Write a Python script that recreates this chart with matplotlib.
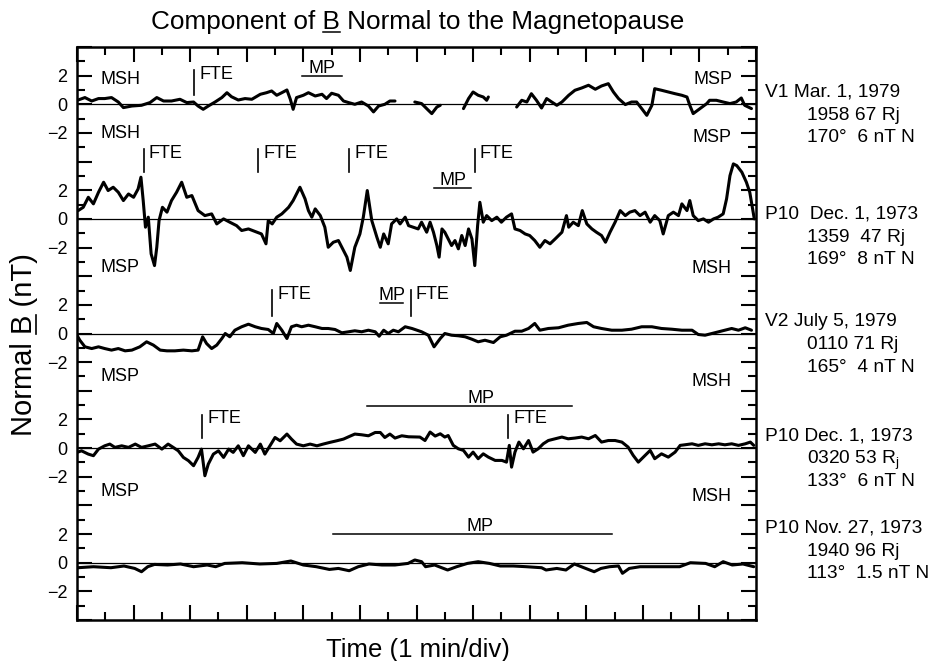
import matplotlib
matplotlib.use('Agg')
import matplotlib.pyplot as plt
from matplotlib.lines import Line2D
from matplotlib.ticker import MultipleLocator, FixedLocator, FixedFormatter

plt.rcParams['font.family'] = ['Liberation Sans', 'DejaVu Sans']

nan = float('nan')

# ---- data: time (min), normal B (nT) ----
# V1 Mar. 1, 1979 (gaps in the record -> nan)
v1_t = [0.02, 0.14, 0.26, 0.38, 0.49, 0.61, 0.73, 0.82, 0.97, 1.14, 1.29, 1.41, 1.53, 1.67,
        1.82, 1.94, 2.06, 2.14, 2.23, 2.32, 2.44, 2.56, 2.65, 2.73, 2.85, 2.97, 3.09, 3.24,
        3.35, 3.44, 3.53, 3.62, 3.71, 3.77, 3.82, 3.88, 4.00, 4.09, 4.21, 4.33, 4.41, 4.50,
        4.62, 4.71, 4.80, 4.91, 5.03, 5.15, 5.24, 5.33, 5.44, 5.53, 5.62, 5.80,
        5.97, 6.09, 6.21, 6.27, 6.36, 6.42, 6.60,
        6.83, 6.92, 7.00, 7.09, 7.18, 7.24, 7.27, 7.50,
        7.77, 7.86, 7.95, 8.03, 8.12, 8.21, 8.30, 8.39, 8.48, 8.57, 8.69, 8.80, 8.92, 9.04,
        9.16, 9.27, 9.39, 9.48, 9.57, 9.69, 9.80, 9.89, 9.98, 10.07, 10.16, 10.21, 10.33,
        10.45, 10.57, 10.69, 10.78, 10.83, 10.89, 11.01, 11.13, 11.18, 11.30, 11.42, 11.54,
        11.65, 11.74, 11.80, 11.92]
v1_b = [0.30, 0.47, 0.23, 0.40, 0.40, 0.47, 0.16, -0.23, -0.12, -0.07, 0.12, 0.47, 0.23, 0.23,
        0.35, 0.12, 0.16, -0.12, -0.35, -0.12, 0.16, 0.47, 0.81, 0.53, 0.30, 0.40, 0.35, 0.70,
        0.81, 0.93, 0.63, 0.81, 1.00, 0.35, -0.35, 0.47, 0.63, 0.81, 0.58, 0.70, 0.40, 0.77,
        0.63, 0.23, 0.12, 0.00, 0.16, -0.12, -0.53, -0.12, 0.00, 0.23, 0.23, nan,
        0.16, 0.05, -0.42, -0.65, -0.19, -0.07, nan,
        -0.30, 0.40, 0.86, 0.63, 0.51, 0.28, 0.51, nan,
        -0.19, 0.28, 0.16, 0.74, 0.28, -0.26, 0.40, 0.16, -0.07, 0.16, 0.63, 0.98, 1.14, 1.33,
        1.05, 1.28, 1.44, 0.86, 0.40, -0.02, 0.16, 0.16, -0.30, -0.77, -0.07, 1.09, 0.98,
        0.86, 0.74, 0.63, 0.51, -0.07, -0.65, -0.30, 0.05, 0.28, 0.28, 0.16, 0.05,
        0.16, 0.44, -0.07, -0.30]

# P10 Dec. 1, 1973 (1359)
p10_1359_t = [0.02, 0.11, 0.20, 0.29, 0.38, 0.47, 0.55, 0.64, 0.73, 0.82, 0.91, 1.00, 1.08, 1.13,
              1.17, 1.21, 1.26, 1.31, 1.37, 1.41, 1.45, 1.51, 1.59, 1.67, 1.76, 1.85, 1.94, 2.03,
              2.14, 2.26, 2.38, 2.47, 2.59, 2.70, 2.82, 2.91, 3.03, 3.18, 3.26, 3.34, 3.38, 3.45,
              3.53, 3.62, 3.74, 3.82, 3.88, 3.94, 4.03, 4.09, 4.15, 4.21, 4.30, 4.38, 4.44, 4.53,
              4.62, 4.68, 4.77, 4.83, 4.91, 5.00, 5.06, 5.13, 5.21, 5.30, 5.36, 5.42, 5.50, 5.56,
              5.65, 5.71, 5.80, 5.86,
              6.03, 6.09, 6.18, 6.24, 6.30, 6.36, 6.40, 6.45, 6.50, 6.56, 6.62, 6.68, 6.74, 6.80,
              6.86, 6.92, 6.98, 7.03, 7.08, 7.12, 7.18, 7.24, 7.33, 7.42, 7.50, 7.59, 7.68, 7.74,
              7.83, 7.92, 8.00, 8.09, 8.18, 8.27, 8.36, 8.45, 8.57, 8.65, 8.69, 8.77, 8.86, 8.93,
              9.01, 9.10, 9.18, 9.27, 9.34, 9.42, 9.51, 9.60, 9.69, 9.77, 9.86, 9.95, 10.04, 10.13,
              10.21, 10.30, 10.36, 10.45, 10.54, 10.63, 10.69, 10.78, 10.83, 10.89, 10.98, 11.07,
              11.16, 11.25, 11.33, 11.42, 11.48, 11.54, 11.60, 11.66, 11.75, 11.83, 11.89, 11.93,
              11.97]
p10_1359_b = [0.58, 0.81, 1.51, 1.05, 1.86, 2.56, 1.98, 2.21, 1.86, 1.28, 1.74, 1.51, 2.09, 2.91,
              1.28, -0.58, 0.12, -2.44, -3.26, -1.98, -0.12, 0.81, 0.47, 1.28, 1.86, 2.56, 1.51, 1.63,
              0.58, 0.23, 0.35, -0.35, 0.00, -0.23, -0.47, -0.81, -0.70, -0.93, -1.05, -1.74, -0.12, -0.35,
              0.12, 0.35, 0.81, 1.28, 1.74, 2.21, 1.40, 0.58, 0.12, 0.70, 0.23, -0.58, -1.98, -1.63,
              -1.51, -1.98, -2.67, -3.60, -1.98, -1.05, 0.12, 1.98, -0.12, -1.28, -1.98, -1.05, -1.74, -0.35,
              0.00, -0.35, 0.12, -0.47,
              -0.70, -0.23, -0.93, -0.23, -0.93, -1.86, -2.67, -0.70, -0.93, -1.40, -1.86, -1.51, -2.09, -1.16,
              -1.86, -0.70, -1.40, -3.26, -0.47, 1.16, -0.23, 0.23, -0.12, 0.12, -0.23, 0.12, 0.35, -0.70,
              -0.81, -1.05, -1.16, -1.51, -1.98, -1.51, -1.74, -1.40, -0.93, 0.23, -0.58, -0.23, -0.47, 0.58,
              -0.35, -0.70, -0.93, -1.16, -1.63, -0.93, -0.23, 0.58, 0.23, 0.47, 0.58, 0.23, 0.47, -0.23,
              0.23, -0.12, -1.05, 0.23, 0.47, 0.23, 1.05, 0.58, 1.28, 0.23, -0.12, 0.00,
              -0.23, 0.00, 0.12, 0.35, 1.40, 3.02, 3.84, 3.72, 3.26, 2.56, 1.86, 0.93,
              0.00]

# V2 July 5, 1979
v2_t = [0.00, 0.05, 0.14, 0.26, 0.38, 0.49, 0.61, 0.73, 0.85, 0.97, 1.11, 1.23, 1.35, 1.47, 1.59,
        1.73, 1.88, 2.03, 2.14, 2.22, 2.29, 2.38, 2.47, 2.56, 2.62, 2.70, 2.79, 2.91, 3.03, 3.15,
        3.26, 3.38, 3.47, 3.53, 3.62, 3.71, 3.79, 3.88, 3.97, 4.09, 4.21, 4.33, 4.44, 4.56, 4.68,
        4.80, 4.91, 5.03, 5.15, 5.27, 5.34, 5.42, 5.50, 5.59, 5.68, 5.80, 5.92,
        6.09, 6.21, 6.31, 6.42, 6.50, 6.62, 6.74, 6.86, 6.98, 7.09, 7.21, 7.36, 7.48, 7.59, 7.74,
        7.86, 7.98, 8.09, 8.18, 8.33, 8.51, 8.68, 8.86, 9.01, 9.13, 9.27, 9.45, 9.63, 9.80, 9.98,
        10.16, 10.33, 10.51, 10.69, 10.87, 10.98, 11.10, 11.22, 11.34, 11.45, 11.57, 11.69, 11.81,
        11.92]
v2_b = [-0.12, -0.47, -0.93, -1.05, -0.93, -1.05, -1.16, -1.05, -1.21, -1.16, -0.93, -0.58, -0.81,
        -1.16, -1.21, -1.21, -1.16, -1.21, -1.16, -0.23, -0.70, -1.05, -0.81, -0.35, 0.00, -0.23, 0.23,
        0.47, 0.65, 0.47, 0.35, 0.28, 0.00, 0.70, 0.23, -0.35, 0.47, 0.58, 0.47, 0.58, 0.47, 0.35,
        0.35, 0.28, 0.05, 0.12, 0.19, 0.12, 0.23, 0.12, -0.19, 0.23, 0.00, 0.23, 0.12, 0.47, 0.35,
        0.12, -0.12, -0.93, -0.35, 0.00, -0.12, -0.16, -0.23, -0.40, -0.58, -0.47, -0.63, -0.23, -0.12,
        0.16, 0.16, 0.35, 0.70, 0.23, 0.35, 0.40, 0.58, 0.70, 0.77, 0.47, 0.35, 0.23, 0.23, 0.30,
        0.47, 0.47, 0.35, 0.30, 0.23, 0.23, -0.07, -0.12, 0.00, 0.12, 0.23, 0.35, 0.23, 0.40, 0.23]

# P10 Dec. 1, 1973 (0320)
p10_0320_t = [0.00, 0.08, 0.20, 0.29, 0.38, 0.49, 0.58, 0.67, 0.79, 0.91, 1.03, 1.14, 1.26, 1.38,
              1.50, 1.61, 1.70, 1.79, 1.88, 1.97, 2.06, 2.14, 2.20, 2.26, 2.32, 2.41, 2.50, 2.59,
              2.68, 2.76, 2.85, 2.94, 3.03, 3.15, 3.24, 3.32, 3.41, 3.50, 3.59, 3.71, 3.79, 3.88,
              4.00, 4.12, 4.24, 4.35, 4.47, 4.59, 4.71, 4.80, 4.91, 5.03, 5.15, 5.27, 5.36, 5.44,
              5.53, 5.62, 5.74, 5.86,
              6.06, 6.15, 6.24, 6.33, 6.42, 6.50, 6.56, 6.65, 6.74, 6.83, 6.92, 7.00, 7.09, 7.18,
              7.27, 7.39, 7.51, 7.59, 7.64, 7.68, 7.74, 7.81, 7.89, 7.98, 8.06, 8.15, 8.24, 8.33,
              8.45, 8.57, 8.68, 8.80, 8.92, 9.04, 9.16, 9.27, 9.39, 9.51, 9.63, 9.74, 9.83, 9.92,
              10.04, 10.13, 10.21, 10.33, 10.45, 10.57, 10.66, 10.74, 10.87, 10.98, 11.10, 11.22,
              11.34, 11.45, 11.57, 11.69, 11.81, 11.90, 11.96]
p10_0320_b = [-0.30, -0.19, -0.42, -0.53, -0.07, 0.16, 0.28, 0.05, 0.16, 0.05, 0.28, 0.05, 0.16, 0.28,
              -0.07, 0.28, 0.05, -0.19, -0.65, -0.88, -1.23, -0.65, -0.07, -1.93, -1.12, -0.42, -0.19, -0.65,
              -0.07, -0.30, 0.16, -0.53, 0.16, -0.30, 0.28, -0.42, 0.16, 0.74, 0.51, 0.98, 0.63, 0.28,
              0.16, 0.28, 0.16, 0.28, 0.40, 0.51, 0.63, 0.79, 0.98, 0.93, 0.86, 1.09, 1.09, 0.74,
              0.98, 0.70, 0.86, 0.79,
              0.77, 0.53, 1.12, 0.84, 1.00, 0.77, 0.88, 0.19, -0.05, -0.16, -0.63, -0.28, -0.74, -0.40,
              -0.63, -0.86, -0.86, -0.98, 0.19, -1.33, -0.28, 0.42, -0.05, 0.53, -0.28, -0.05, 0.30, 0.53,
              0.65, 0.77, 0.65, 0.70, 0.77, 0.65, 0.88, 0.42, 0.53, 0.53, 0.42, 0.07, -0.51, -0.98,
              -0.51, -0.16, -0.74, -0.40, -0.63, -0.28, 0.19, 0.23, 0.30, 0.19, 0.30, 0.23,
              0.30, 0.23, 0.30, 0.19, 0.30, 0.42, 0.19]

# P10 Nov. 27, 1973
p10_1940_t = [0.02, 0.29, 0.60, 0.83, 1.02, 1.14, 1.25, 1.37, 1.60, 1.83, 2.06, 2.30, 2.45, 2.61,
              2.92, 3.23, 3.53, 3.78, 4.00, 4.23, 4.46, 4.62, 4.81, 4.97, 5.16, 5.39, 5.62, 5.85,
              5.97, 6.09, 6.16, 6.32, 6.55, 6.71, 6.90, 7.09, 7.29, 7.48, 7.71, 7.94, 8.21, 8.29,
              8.48, 8.64, 8.79, 8.99, 9.14, 9.26, 9.41, 9.57, 9.64, 9.76, 9.95, 10.19, 10.42, 10.65,
              10.84, 11.11, 11.27, 11.42, 11.58, 11.77, 11.96]
p10_1940_b = [-0.35, -0.28, -0.35, -0.23, -0.40, -0.63, -0.28, -0.12, -0.16, -0.09, -0.28, -0.16, -0.28, -0.05,
              0.00, -0.09, -0.05, 0.12, -0.16, -0.28, -0.47, -0.40, -0.56, -0.28, -0.09, -0.16, -0.16, -0.05,
              0.19, 0.07, -0.28, -0.16, -0.51, -0.28, -0.05, 0.07, -0.05, -0.23, -0.23, -0.28, -0.35, -0.51,
              -0.40, -0.51, -0.09, -0.40, -0.63, -0.40, -0.28, -0.23, -0.74, -0.40, -0.28, -0.28, -0.28, -0.28,
              0.00, -0.05, -0.28, 0.07, -0.16, -0.09, -0.28]

traces = [(v1_t, v1_b), (p10_1359_t, p10_1359_b), (v2_t, v2_b),
          (p10_0320_t, p10_0320_b), (p10_1940_t, p10_1940_b)]

# event markers (minutes)
fte_times = [[2.07], [1.18, 3.20, 4.81, 7.03], [3.45, 5.90], [2.21, 7.62], []]
mp_spans = [(3.97, 4.68), (6.31, 6.96), (5.36, 5.76), (5.13, 8.75), (4.52, 9.46)]
mp_label_x = [4.33, 6.64, 5.56, 7.14, 7.13]

region_left_top = ['MSH', None, None, None, None]
region_left_bottom = ['MSH', 'MSP', 'MSP', 'MSP', None]
region_right_top = ['MSP', None, None, None, None]
region_right_bottom = ['MSP', 'MSH', 'MSH', 'MSH', None]

info_lines = [
    ['V1 Mar. 1, 1979', '1958 67 Rj', '170\u00b0  6 nT N'],
    ['P10  Dec. 1, 1973', '1359  47 Rj', '169\u00b0  8 nT N'],
    ['V2 July 5, 1979', '0110 71 Rj', '165\u00b0  4 nT N'],
    ['P10 Dec. 1, 1973', '0320 53 R$_\\mathregular{j}$', '133\u00b0  6 nT N'],
    ['P10 Nov. 27, 1973', '1940 96 Rj', '113\u00b0  1.5 nT N'],
]

# ---- layout ----
W, H = 933, 661
panel_gap = 8
offsets = [-panel_gap * i for i in range(5)]
fte_bar = [(0.65, 2.39), (3.28, 4.88), (1.25, 3.04), (0.71, 2.32), None]
mp_level = [1.98, 2.16, 2.14, 2.95, 1.98]
left_bottom_y = [-1.93, -3.28, -2.89, -2.91]
right_bottom_y = [-2.15, -3.35, -3.24, -3.26]
info_y_px = [90, 212, 320, 434, 526]

fig = plt.figure(figsize=(W / 100, H / 100), dpi=100)
ax = fig.add_axes([77 / W, 1 - 620 / H, (756 - 77) / W, (620 - 47) / H])
ax.set_xlim(0, 12)
ax.set_ylim(-36, 4)

for (t, b), off in zip(traces, offsets):
    ax.axhline(off, color='black', lw=0.9, zorder=1)
    ax.plot(t, [v + off for v in b], color='black', lw=2.2,
            solid_joinstyle='round', solid_capstyle='round', zorder=2)

fs = 13
for i, off in enumerate(offsets):
    if fte_bar[i] is not None:
        lo, hi = fte_bar[i]
        for ft in fte_times[i]:
            ax.plot([ft, ft], [off + lo, off + hi], color='black', lw=1.2)
            ax.text(ft + 0.09, off + hi - 0.6, 'FTE', fontsize=fs, va='baseline', ha='left')
    x0, x1 = mp_spans[i]
    ax.plot([x0, x1], [off + mp_level[i]] * 2, color='black', lw=1.1)
    ax.text(mp_label_x[i], off + mp_level[i] + 0.22, 'MP', fontsize=fs,
            ha='center', va='baseline')
    if region_left_top[i]:
        ax.text(0.41, off + 1.39, region_left_top[i], fontsize=fs, va='baseline')
    if region_right_top[i]:
        ax.text(11.59, off + 1.43, region_right_top[i], fontsize=fs, va='baseline', ha='right')
    if region_left_bottom[i]:
        ax.text(0.42, off + left_bottom_y[i] - 0.45, region_left_bottom[i], fontsize=fs,
                va='baseline')
    if region_right_bottom[i]:
        ax.text(11.56, off + right_bottom_y[i] - 0.45, region_right_bottom[i], fontsize=fs,
                va='baseline', ha='right')

# ticks
ax.xaxis.set_major_locator(MultipleLocator(1))
ax.xaxis.set_minor_locator(MultipleLocator(0.5))
ax.tick_params(axis='x', labelbottom=False)
major_y = list(range(-36, 5, 2))
labels = {}
for off in offsets:
    labels[off + 2] = '2'
    labels[off] = '0'
    labels[off - 2] = '\u22122'
ax.yaxis.set_major_locator(FixedLocator(major_y))
ax.yaxis.set_major_formatter(FixedFormatter([labels.get(v, '') for v in major_y]))
ax.yaxis.set_minor_locator(MultipleLocator(1))
ax.tick_params(which='both', direction='in', top=True, right=True, width=1.5)
ax.tick_params(which='major', length=11, labelsize=13, pad=7)
ax.tick_params(which='minor', length=5.5)
for s in ax.spines.values():
    s.set_linewidth(1.8)

# right-hand annotations
for lines, yc in zip(info_lines, info_y_px):
    for k, line in enumerate(lines):
        x = 765 if k == 0 else 807
        fig.text(x / W, 1 - (yc + 6.5 + 23 * k) / H, line, fontsize=13.8, va='baseline')

# title, axis labels (B underlined)
title = 'Component of B Normal to the Magnetopause'
ylab = 'Normal B (nT)'
t_fs, y_fs, x_fs = 18.8, 21, 18.5
t_base_px, t_cx = H - 29, 418
fig.text(t_cx / W, t_base_px / H, title, fontsize=t_fs, ha='center', va='baseline')
yl_x, yl_cy = 32, H - 345
fig.text(yl_x / W, yl_cy / H, ylab, fontsize=y_fs, rotation=90, rotation_mode='anchor',
         ha='center', va='baseline')
fig.text(418 / W, 1 - 657 / H, 'Time (1 min/div)', fontsize=x_fs, ha='center', va='baseline')

fig.canvas.draw()
rend = fig.canvas.get_renderer()


def text_width(s, size):
    tmp = fig.text(0, 0, s, fontsize=size)
    w = tmp.get_window_extent(rend).width
    tmp.remove()
    return w


em = t_fs * 100 / 72
full = text_width(title, t_fs)
b_end = t_cx - full / 2 + text_width('Component of B', t_fs)
b_start = b_end - text_width('B', t_fs)
uy = t_base_px - 0.12 * em
fig.add_artist(Line2D([b_start / W, b_end / W], [uy / H, uy / H], color='black', lw=1.1,
                      transform=fig.transFigure))

em = y_fs * 100 / 72
full = text_width(ylab, y_fs)
b_end = yl_cy - full / 2 + text_width('Normal B', y_fs)
b_start = b_end - text_width('B', y_fs)
ux = yl_x + 0.12 * em
fig.add_artist(Line2D([ux / W, ux / W], [b_start / H, b_end / H], color='black', lw=1.2,
                      transform=fig.transFigure))

fig.savefig('out.png', dpi=100)
